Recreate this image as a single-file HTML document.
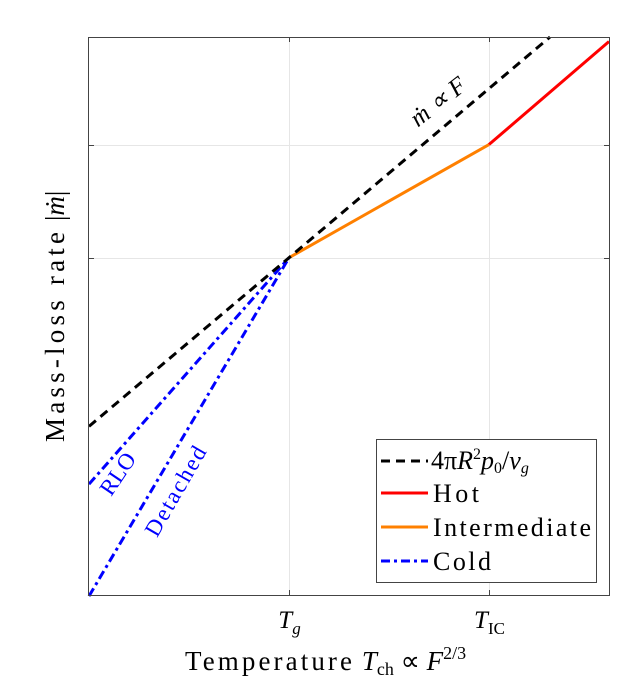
<!DOCTYPE html>
<html><head><meta charset="utf-8"><style>
body{margin:0;background:#fff}
svg text{font-family:"Liberation Serif",serif}
</style></head><body>
<svg width="642" height="687" viewBox="0 0 642 687" xmlns="http://www.w3.org/2000/svg">
<rect width="642" height="687" fill="#fff"/>
<g id="grid"></g>
<g id="marks"></g>
<rect x="88.5" y="37.5" width="521" height="558" fill="none" stroke="#444" stroke-width="1"/>
<g id="ticks"></g>
<text x="185" y="670" font-size="27"><tspan textLength="167" lengthAdjust="spacing">Temperature</tspan> <tspan font-style="italic">T</tspan><tspan font-size="18" dy="5">ch</tspan><tspan dy="-5"> ∝ </tspan><tspan font-style="italic">F</tspan><tspan font-size="18" dy="-11">2/3</tspan></text>
<text transform="translate(64,442) rotate(-90)" font-size="27"><tspan textLength="210" lengthAdjust="spacing">Mass-loss rate</tspan> |<tspan font-style="italic">ṁ</tspan>|</text>
<text transform="translate(443,108) rotate(-38)" font-size="25" font-style="italic" text-anchor="middle">ṁ ∝ F</text>
<text transform="translate(124,478) rotate(-56)" font-size="23" fill="#0000ff" text-anchor="middle">RLO</text>
<text transform="translate(182,495) rotate(-60)" font-size="23" fill="#0000ff" text-anchor="middle" textLength="100" lengthAdjust="spacing">Detached</text>
<g>
<rect x="376.5" y="439.5" width="220" height="143" fill="#fff" stroke="#444"/>
<line x1="381" y1="461" x2="428" y2="461" stroke="#000" stroke-width="3" stroke-dasharray="9,6"/>
<text x="431" y="469" font-size="26">4π<tspan font-style="italic">R</tspan><tspan font-size="16" dy="-10">2</tspan><tspan font-style="italic" dy="10">p</tspan><tspan font-size="16" dy="4">0</tspan><tspan dy="-4">/</tspan><tspan font-style="italic">v</tspan><tspan font-style="italic" font-size="16" dy="4">g</tspan></text>
<line x1="381" y1="493" x2="428" y2="493" stroke="#ff0000" stroke-width="3"/>
<text x="433" y="502" font-size="26" textLength="46" lengthAdjust="spacing">Hot</text>
<line x1="381" y1="527" x2="428" y2="527" stroke="#ff8000" stroke-width="3"/>
<text x="433" y="536" font-size="26" textLength="158" lengthAdjust="spacing">Intermediate</text>
<line x1="381" y1="561" x2="428" y2="561" stroke="#0000ff" stroke-width="3" stroke-dasharray="9,4,3,4"/>
<text x="433" y="570" font-size="26" textLength="58" lengthAdjust="spacing">Cold</text>
</g>
</svg>
<script>
const xTickVals=[1,2];
const xTickLabels=["g","IC"];
const yTickVals=[1,2];
const fluxX=[0,1,2.305];
const fluxY=[-0.49,1,2.95];
const hotX=[2,2.6];
const hotY=[2,2.91];
const interX=[1,2];
const interY=[1,2];
const rloX=[0,1];
const rloY=[-1.0,1];
const detX=[0,1];
const detY=[-1.99,1];
const X0=89,X1=609,Y0=595,Y1=37,xmin=0,xmax=2.6,ymin=-1.98,ymax=2.95;
const sx=v=>X0+(v-xmin)/(xmax-xmin)*(X1-X0);
const sy=v=>Y0-(v-ymin)/(ymax-ymin)*(Y0-Y1);
const NS="http://www.w3.org/2000/svg";
const grid=document.getElementById('grid'),ticks=document.getElementById('ticks'),marks=document.getElementById('marks');
function ln(p,x1,y1,x2,y2,st,w){const l=document.createElementNS(NS,'line');l.setAttribute('x1',x1);l.setAttribute('y1',y1);l.setAttribute('x2',x2);l.setAttribute('y2',y2);l.setAttribute('stroke',st);l.setAttribute('stroke-width',w);p.appendChild(l);return l;}
xTickVals.forEach((v,i)=>{const x=Math.round(sx(v))+0.5;
const g=ln(grid,x,37,x,595,'#e6e6e6',1);


ln(ticks,x,37,x,42,'#444',1);ln(ticks,x,590,x,595,'#444',1);
const t=document.createElementNS(NS,'text');t.setAttribute('x',x);t.setAttribute('y',628);t.setAttribute('font-size','25');t.setAttribute('text-anchor','middle');
t.innerHTML='<tspan font-style="italic">T</tspan><tspan font-size="17" dy="6"'+(i==0?' font-style="italic"':'')+'>'+xTickLabels[i]+'</tspan>';


ticks.appendChild(t);});
yTickVals.forEach(v=>{const y=Math.round(sy(v))+0.5;
const g=ln(grid,89,y,609,y,'#e6e6e6',1);


ln(ticks,89,y,94,y,'#444',1);ln(ticks,604,y,609,y,'#444',1);});
function poly(xs,ys,col,dash,name){const p=document.createElementNS(NS,'polyline');
p.setAttribute('points',xs.map((x,i)=>sx(x)+','+sy(ys[i])).join(' '));
p.setAttribute('fill','none');p.setAttribute('stroke',col);p.setAttribute('stroke-width','3');
if(dash)p.setAttribute('stroke-dasharray',dash);


marks.appendChild(p);}
poly(interX,interY,'#ff8000',null,'intermediate-line');
poly(hotX,hotY,'#ff0000',null,'hot-line');
poly(rloX,rloY,'#0000ff','9,4,3,4','rlo-line');
poly(detX,detY,'#0000ff','9,4,3,4','detached-line');
poly(fluxX,fluxY,'#000','9,6','flux-line');
</script>
</body></html>
